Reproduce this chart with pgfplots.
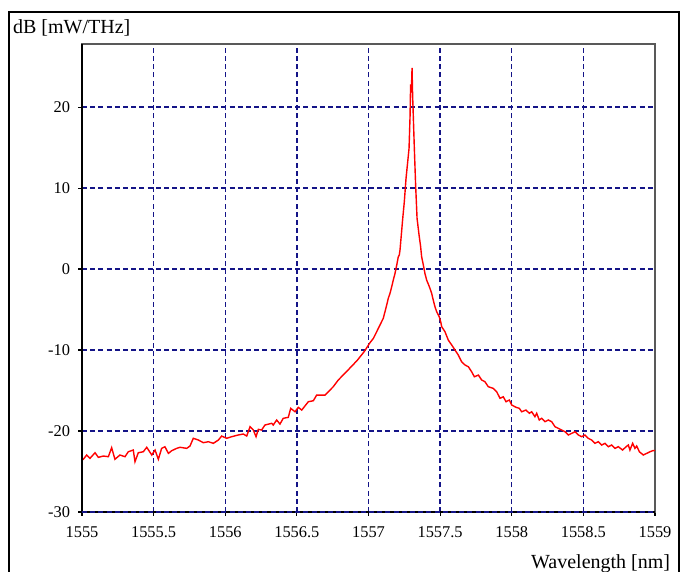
\documentclass[border=0pt]{standalone}
\usepackage{fontspec}
\setmainfont{Liberation Serif}
\usepackage{pgfplots}
\pgfplotsset{compat=1.18}
\definecolor{gridnavy}{RGB}{20,20,135}
\begin{document}
\begin{tikzpicture}
\useasboundingbox (-41pt,-30pt) rectangle (299.5pt,256pt);
\draw[line width=1.4pt] (-36.5pt,-31pt) -- (-36.5pt,250pt) -- (298.5pt,250pt) -- (298.5pt,-31pt);
\begin{axis}[
  at={(0pt,0pt)}, anchor=south west,
  scale only axis, width=286.5pt, height=234pt,
  xmin=1555, xmax=1559, ymin=-30, ymax=27.8,
  xtick={1555,1555.5,1556,1556.5,1557,1557.5,1558,1558.5,1559},
  ytick={-30,-20,-10,0,10,20},
  scaled x ticks=false,
  /pgf/number format/assume math mode=true,
  ticklabel style={font=\fontsize{8.2}{9}\selectfont},
  xticklabel style={/pgf/number format/fixed, /pgf/number format/precision=1, /pgf/number format/1000 sep={}, anchor=base, yshift=-11pt},
  yticklabel style={anchor=east, xshift=-0.5pt},
  xtick pos=lower, ytick pos=left,
  tick align=outside, major tick length=2pt,
  tick style={black, line width=0.6pt},
  grid=major,
  grid style={gridnavy, dash pattern=on 2.5pt off 1.6pt, line width=0.7pt},
  axis line style={draw=black!65, line width=0.6pt},
  clip=false,
]
\addplot[red, line width=0.7pt] coordinates {
(1555.000,-23.4) (1555.009,-23.49) (1555.033,-22.96) (1555.056,-23.37) (1555.091,-22.68)
(1555.114,-23.25) (1555.149,-23.09) (1555.184,-23.17) (1555.207,-22.06) (1555.230,-23.49)
(1555.265,-22.96) (1555.300,-23.17) (1555.323,-22.56) (1555.358,-22.35) (1555.370,-23.79)
(1555.393,-22.68) (1555.428,-22.56) (1555.452,-22.01) (1555.487,-22.96) (1555.510,-22.35)
(1555.533,-23.49) (1555.556,-22.14) (1555.579,-21.94) (1555.603,-22.76) (1555.626,-22.43)
(1555.661,-22.14) (1555.684,-22.01) (1555.731,-22.14) (1555.754,-21.85) (1555.777,-20.90)
(1555.812,-21.11) (1555.847,-21.44) (1555.882,-21.32) (1555.917,-21.52) (1555.952,-21.11)
(1555.975,-20.62) (1556.010,-20.90) (1556.045,-20.70) (1556.091,-20.49) (1556.126,-20.37)
(1556.150,-20.62) (1556.173,-19.47) (1556.196,-19.88) (1556.215,-20.70) (1556.231,-19.79)
(1556.254,-19.88) (1556.277,-19.26) (1556.324,-19.05) (1556.335,-19.26) (1556.359,-18.64)
(1556.382,-19.14) (1556.405,-18.43) (1556.440,-18.31) (1556.457,-17.20) (1556.487,-17.62)
(1556.510,-17.07) (1556.534,-17.41) (1556.580,-16.38) (1556.615,-16.26) (1556.638,-15.56)
(1556.696,-15.56) (1556.731,-14.94) (1556.754,-14.53) (1556.789,-13.70) (1556.850,-12.60)
(1556.920,-11.30) (1556.970,-10.20) (1557.010,-9.10) (1557.034,-8.56) (1557.057,-7.74)
(1557.080,-6.91) (1557.103,-6.09) (1557.115,-5.27) (1557.127,-4.44) (1557.138,-3.62)
(1557.150,-3.00) (1557.162,-2.18) (1557.173,-1.36) (1557.185,-0.54) (1557.197,0.49)
(1557.208,1.52) (1557.215,1.73) (1557.220,2.35) (1557.229,4.20) (1557.239,6.26)
(1557.250,8.31) (1557.262,11.20) (1557.283,14.90) (1557.290,18.81) (1557.294,22.80)
(1557.299,21.80) (1557.304,24.85) (1557.308,21.48) (1557.320,14.90) (1557.329,10.37)
(1557.339,6.26) (1557.353,4.20) (1557.364,2.76) (1557.371,1.52) (1557.383,0.49)
(1557.394,-0.54) (1557.406,-1.36) (1557.425,-2.18) (1557.441,-3.00) (1557.452,-3.83)
(1557.464,-4.65) (1557.476,-5.27) (1557.494,-5.89) (1557.504,-6.51) (1557.511,-7.12)
(1557.534,-7.74) (1557.557,-8.77) (1557.581,-9.38) (1557.604,-10.00) (1557.627,-10.62)
(1557.650,-11.44) (1557.674,-11.85) (1557.697,-12.06) (1557.720,-12.68) (1557.739,-13.30)
(1557.767,-13.09) (1557.790,-13.70) (1557.813,-13.91) (1557.836,-14.53) (1557.871,-14.73)
(1557.895,-15.15) (1557.918,-15.96) (1557.941,-15.77) (1557.960,-16.38) (1557.983,-16.17)
(1558.000,-16.79) (1558.030,-17.07) (1558.053,-17.20) (1558.069,-17.62) (1558.099,-17.41)
(1558.123,-17.81) (1558.139,-17.62) (1558.162,-18.23) (1558.174,-17.81) (1558.192,-18.64)
(1558.209,-18.43) (1558.232,-18.85) (1558.255,-18.64) (1558.279,-18.85) (1558.302,-19.47)
(1558.325,-19.67) (1558.349,-19.88) (1558.372,-20.09) (1558.395,-20.49) (1558.418,-20.29)
(1558.442,-20.09) (1558.465,-20.49) (1558.488,-20.70) (1558.511,-20.49) (1558.534,-20.90)
(1558.558,-21.11) (1558.581,-21.52) (1558.604,-21.32) (1558.628,-21.73) (1558.651,-21.52)
(1558.674,-21.94) (1558.698,-21.73) (1558.721,-22.14) (1558.744,-21.94) (1558.774,-22.35)
(1558.798,-21.94) (1558.814,-21.73) (1558.825,-22.35) (1558.844,-21.52) (1558.860,-22.14)
(1558.872,-21.85) (1558.891,-22.56) (1558.918,-22.96) (1558.942,-22.76) (1558.965,-22.56)
(1558.984,-22.43) (1559.000,-22.40)
};
\draw[black, line width=1pt] (axis description cs:0,1) -- (axis description cs:0,0) -- (axis description cs:1,0);
\draw[gridnavy, dash pattern=on 2.5pt off 1.6pt, line width=0.7pt] (axis description cs:0,0) -- (axis description cs:1,0);
\node[anchor=base east, inner sep=0pt, font=\fontsize{10}{12}\selectfont] at (axis description cs:1.027,-0.1218) {Wavelength [nm]};
\node[anchor=base west, inner sep=0pt, font=\fontsize{10}{12}\selectfont] at (axis description cs:-0.1209,1.0228) {dB [mW/THz]};
\end{axis}
\end{tikzpicture}
\end{document}
